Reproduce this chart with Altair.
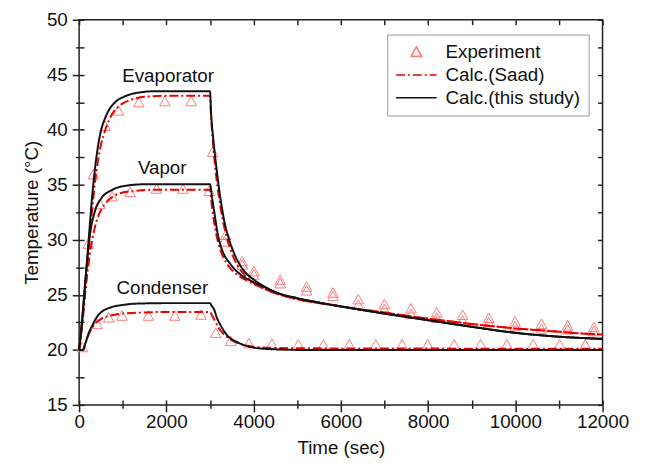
import altair as alt
import pandas as pd

SERIES = ["Experiment", "Calc.(Saad)", "Calc.(this study)"]
FONT = "Liberation Sans"

# ---------------- Experiment ----------------
exp_evap_t = [212, 325, 600, 900, 1370, 1965, 2570, 3060, 3360, 3740, 4005, 4610, 5215, 5820,
              6400, 7000, 7610, 8200, 8790, 9390, 9995, 10600, 11200, 11800]
exp_evap_T = [29.6, 35.9, 40.3, 41.7, 42.45, 42.55, 42.55, 37.95, 30.4, 28.0, 27.1, 26.3, 25.7, 25.15,
              24.55, 24.11, 23.72, 23.36, 23.13, 22.86, 22.53, 22.32, 22.17, 22.02]

exp_vap_t = [476, 755, 1171, 1775, 2380, 2985, 3325, 3740, 4005, 4610, 5215, 5820,
             6400, 7000, 7610, 8200, 8790, 9390, 9995, 10600, 11200, 11800]
exp_vap_T = [33.2, 33.9, 34.3, 34.6, 34.6, 34.4, 29.8, 27.7, 26.8, 26.0, 25.35, 24.85,
             24.05, 23.66, 23.21, 22.86, 22.62, 22.47, 22.11, 21.88, 21.81, 21.64]

exp_cond_t = [75, 415, 680, 982, 1587, 2192, 2795, 3135, 3476, 3891, 4420, 5024, 5600, 6195,
              6800, 7404, 7992, 8597, 9203, 9807, 10411, 11016, 11605]
exp_cond_T = [20.2, 22.3, 22.9, 23.06, 23.06, 23.06, 23.15, 21.5, 20.75, 20.55, 20.5, 20.45, 20.45, 20.45,
              20.45, 20.45, 20.45, 20.45, 20.45, 20.45, 20.45, 20.45, 20.45]

# ---------------- Calc. (this study) ----------------
cur_evap_t = [0, 50, 100, 150, 200, 250, 300, 350, 400, 450, 500, 600, 700, 800, 900, 1000, 1200, 1400,
              1700, 2000, 2500, 3000, 3030, 3070, 3135, 3200, 3324, 3450, 3551, 3777, 4000, 4231, 4500,
              5000, 5500, 6000, 7000, 8000, 9000, 10000, 11000, 12000]
cur_evap_T = [20.0, 21.8, 24.0, 26.5, 29.0, 31.6, 34.0, 36.0, 37.6, 38.9, 39.9, 41.1, 41.9, 42.4, 42.75, 42.95,
              43.25, 43.4, 43.5, 43.5, 43.5, 43.5, 41.2, 39.4, 37.0, 34.9, 31.8, 29.9, 28.8, 27.2, 26.4, 25.8,
              25.25, 24.7, 24.3, 23.95, 23.3, 22.7, 22.1, 21.55, 21.2, 21.0]

cur_vap_t = [0, 50, 136, 249, 363, 513, 739, 1043, 1500, 2000, 3000, 3050, 3100, 3175, 3250, 3330, 3450,
             3550, 3750, 4000, 4250, 4500, 5000, 5500, 6000, 7000, 8000, 9000, 10000, 11000, 12000]
cur_vap_T = [20.0, 21.9, 26.0, 30.5, 32.6, 33.8, 34.5, 34.9, 35.05, 35.05, 35.05, 33.8, 32.5, 30.6, 29.4,
             28.6, 27.9, 27.4, 26.7, 26.15, 25.7, 25.25, 24.7, 24.3, 23.95, 23.3, 22.7, 22.1, 21.55, 21.2,
             21.0]

cur_cond_t = [0, 80, 120, 160, 227, 300, 378, 450, 528, 650, 800, 1000, 1285, 2000, 3000, 3040, 3097,
              3160, 3250, 3400, 3627, 3850, 4100, 4500, 5000, 12000]
cur_cond_T = [20.0, 20.0, 20.3, 20.8, 21.6, 22.2, 22.8, 23.2, 23.5, 23.75, 23.95, 24.08, 24.2, 24.25, 24.25,
              24.0, 23.66, 22.9, 22.2, 21.3, 20.7, 20.35, 20.15, 20.05, 20.0, 20.0]

# ---------------- Calc. (Saad) ----------------
saad_evap_t = [0, 50, 100, 150, 200, 250, 300, 350, 400, 450, 500, 600, 700, 800, 900, 1000, 1200, 1400,
               1700, 2000, 3000, 3020, 3060, 3110, 3170, 3240, 3320, 3410, 3510, 3640, 3800, 4000, 4250,
               4500, 5000, 5500, 6000, 6500, 7000, 7500, 8000, 8500, 9000, 9500, 10000, 10500, 11000,
               11500, 12000]
saad_evap_T = [20.0, 21.5, 23.4, 25.8, 28.2, 30.6, 32.8, 34.7, 36.3, 37.6, 38.6, 40.0, 41.0, 41.7, 42.1,
               42.4, 42.75, 42.95, 43.05, 43.1, 43.1, 41.5, 39.3, 37.0, 34.9, 33.0, 31.3, 29.9, 28.7, 27.6,
               26.8, 26.1, 25.55, 25.15, 24.6, 24.25, 23.95, 23.65, 23.4, 23.1, 22.85, 22.6, 22.35, 22.15,
               21.95, 21.8, 21.65, 21.5, 21.4]

saad_vap_t = [0, 50, 100, 150, 200, 250, 300, 400, 500, 600, 700, 800, 1000, 1300, 1700, 3000, 3030, 3080,
              3150, 3230, 3320, 3450, 3600, 3800, 4000, 4250, 4500, 5000, 5500, 6000, 6500, 7000, 7500,
              8000, 8500, 9000, 9500, 10000, 10500, 11000, 11500, 12000]
saad_vap_T = [20.0, 21.8, 23.8, 25.6, 27.3, 28.8, 30.0, 31.7, 32.7, 33.3, 33.7, 34.0, 34.3, 34.45, 34.55,
              34.55, 33.5, 32.0, 30.4, 29.2, 28.3, 27.5, 26.9, 26.4, 26.0, 25.55, 25.15, 24.6, 24.25, 23.95,
              23.65, 23.4, 23.1, 22.85, 22.6, 22.35, 22.15, 21.95, 21.8, 21.65, 21.5, 21.4]

saad_cond_t = [0, 80, 150, 200, 300, 400, 500, 700, 1000, 1500, 2000, 3000, 3050, 3120, 3200, 3300, 3450,
               3650, 3900, 4300, 5000, 8000, 12000]
saad_cond_T = [20.0, 20.0, 20.6, 21.2, 22.0, 22.5, 22.8, 23.1, 23.3, 23.4, 23.45, 23.45, 23.1, 22.6, 22.0,
               21.5, 21.0, 20.6, 20.35, 20.2, 20.15, 20.12, 20.1]

# ---------------- annotations ----------------
ann_text = ["Evaporator", "Vapor", "Condenser"]
ann_t = [2040, 1905, 1908]
ann_T = [44.3, 35.97, 25.06]

# ---------------- axis ticks ----------------
x_major = [0, 2000, 4000, 6000, 8000, 10000, 12000]
x_minor = [1000, 3000, 5000, 7000, 9000, 11000]
y_major = [15, 20, 25, 30, 35, 40, 45, 50]
y_minor = [17.5, 22.5, 27.5, 32.5, 37.5, 42.5, 47.5]

rows = []
def add(group, series, ts, Ts):
    for t, T in zip(ts, Ts):
        rows.append({"group": group, "series": series, "t": t, "T": T})

add("Evaporator", "Experiment", exp_evap_t, exp_evap_T)
add("Vapor", "Experiment", exp_vap_t, exp_vap_T)
add("Condenser", "Experiment", exp_cond_t, exp_cond_T)
add("Evaporator", "Calc.(Saad)", saad_evap_t, saad_evap_T)
add("Vapor", "Calc.(Saad)", saad_vap_t, saad_vap_T)
add("Condenser", "Calc.(Saad)", saad_cond_t, saad_cond_T)
add("Evaporator", "Calc.(this study)", cur_evap_t, cur_evap_T)
add("Vapor", "Calc.(this study)", cur_vap_t, cur_vap_T)
add("Condenser", "Calc.(this study)", cur_cond_t, cur_cond_T)
df = pd.DataFrame(rows)
exp_df = df[df.series == "Experiment"]
calc_df = df[df.series != "Experiment"]
ann_df = pd.DataFrame({"text": ann_text, "t": ann_t, "T": ann_T})

W, H = 530, 390
TRI = "M0,-0.27L0.26,0.2L-0.26,0.2Z"
SEG = "M-1,0L1,0"
AX = "#222222"

xscale = alt.Scale(domain=[0, 12000], nice=False, zero=False)
yscale = alt.Scale(domain=[15, 50], nice=False, zero=False)

legend = alt.Legend(orient="none", legendX=312, legendY=15, title=None, padding=8,
                    strokeColor="#999999", fillColor="white", labelFont=FONT, labelFontSize=19,
                    labelColor="#111111", symbolSize=1681, symbolStrokeWidth=1.6, clipHeight=20,
                    rowPadding=3, labelOffset=8)

color = alt.Color("series:N", scale=alt.Scale(domain=SERIES, range=["#ff7a7a", "#ee0000", "#111111"]),
                  legend=legend)
shape = alt.Shape("series:N", scale=alt.Scale(domain=SERIES, range=[TRI, SEG, SEG]), legend=legend)
dash = alt.StrokeDash("series:N", scale=alt.Scale(domain=SERIES, range=[[1, 0], [9, 3, 2, 3], [1, 0]]),
                      legend=legend)


def hidden_axis(orient, values, size, offset=0):
    return alt.Axis(orient=orient, values=values, tickSize=size, labels=False, domain=False,
                    title=None, grid=False, ticks=True, tickColor=AX, tickWidth=1.5, offset=offset)


main_x = alt.Axis(orient="bottom", values=x_major, format="d", tickSize=7, tickColor=AX, tickWidth=1.5,
                  domain=False, grid=False, labelFont=FONT, labelFontSize=19, labelColor="#111111",
                  labelPadding=1, labelFlush=False, labelOverlap=False, title="Time (sec)",
                  titleFont=FONT, titleFontSize=19, titleFontWeight="normal", titleColor="#111111",
                  titlePadding=7)
main_y = alt.Axis(orient="left", values=y_major, format="d", tickSize=7, tickColor=AX, tickWidth=1.5,
                  domain=False, grid=False, labelFont=FONT, labelFontSize=19, labelColor="#111111",
                  labelPadding=5, labelFlush=False, labelOverlap=False, title="Temperature (°C)",
                  titleFont=FONT, titleFontSize=19, titleFontWeight="normal", titleColor="#111111",
                  titlePadding=5)

pts = alt.Chart(exp_df).mark_point(filled=False, size=1681, strokeWidth=1, opacity=1).encode(
    x=alt.X("t:Q", scale=xscale, axis=main_x),
    y=alt.Y("T:Q", scale=yscale, axis=main_y),
    color=color, shape=shape,
)

lines = alt.Chart(calc_df).mark_line(strokeWidth=2, interpolate="monotone").encode(
    x=alt.X("t:Q", scale=xscale, axis=hidden_axis("bottom", x_minor, 3.5)),
    y=alt.Y("T:Q", scale=yscale, axis=hidden_axis("left", y_minor, 3.5)),
    color=color, strokeDash=dash, detail="group:N",
)

inner1 = alt.Chart(exp_df).mark_point(opacity=0).encode(
    x=alt.X("t:Q", scale=xscale, axis=hidden_axis("top", x_major + x_minor, 5, -H)),
    y=alt.Y("T:Q", scale=yscale, axis=hidden_axis("right", y_major + y_minor, 5, -W)),
)
inner2 = alt.Chart(exp_df).mark_point(opacity=0).encode(
    x=alt.X("t:Q", scale=xscale, axis=hidden_axis("bottom", x_major + x_minor, 5, -H)),
    y=alt.Y("T:Q", scale=yscale, axis=hidden_axis("left", y_major + y_minor, 5, -W)),
)

txt = alt.Chart(ann_df).mark_text(font=FONT, fontSize=19, color="#111111", baseline="alphabetic",
                                  align="center").encode(
    x=alt.X("t:Q", scale=xscale, axis=None),
    y=alt.Y("T:Q", scale=yscale, axis=None),
    text="text:N",
)

chart = alt.layer(pts, lines, inner1, inner2, txt).resolve_axis(
    x="independent", y="independent"
).properties(
    width=W, height=H,
    autosize=alt.AutoSizeParams(type="none"),
    padding={"left": 72, "top": 9, "right": 44, "bottom": 63},
).configure_view(stroke=AX, strokeWidth=1.5)

chart.save("out.html", embed_options={"renderer": "svg", "actions": False})
